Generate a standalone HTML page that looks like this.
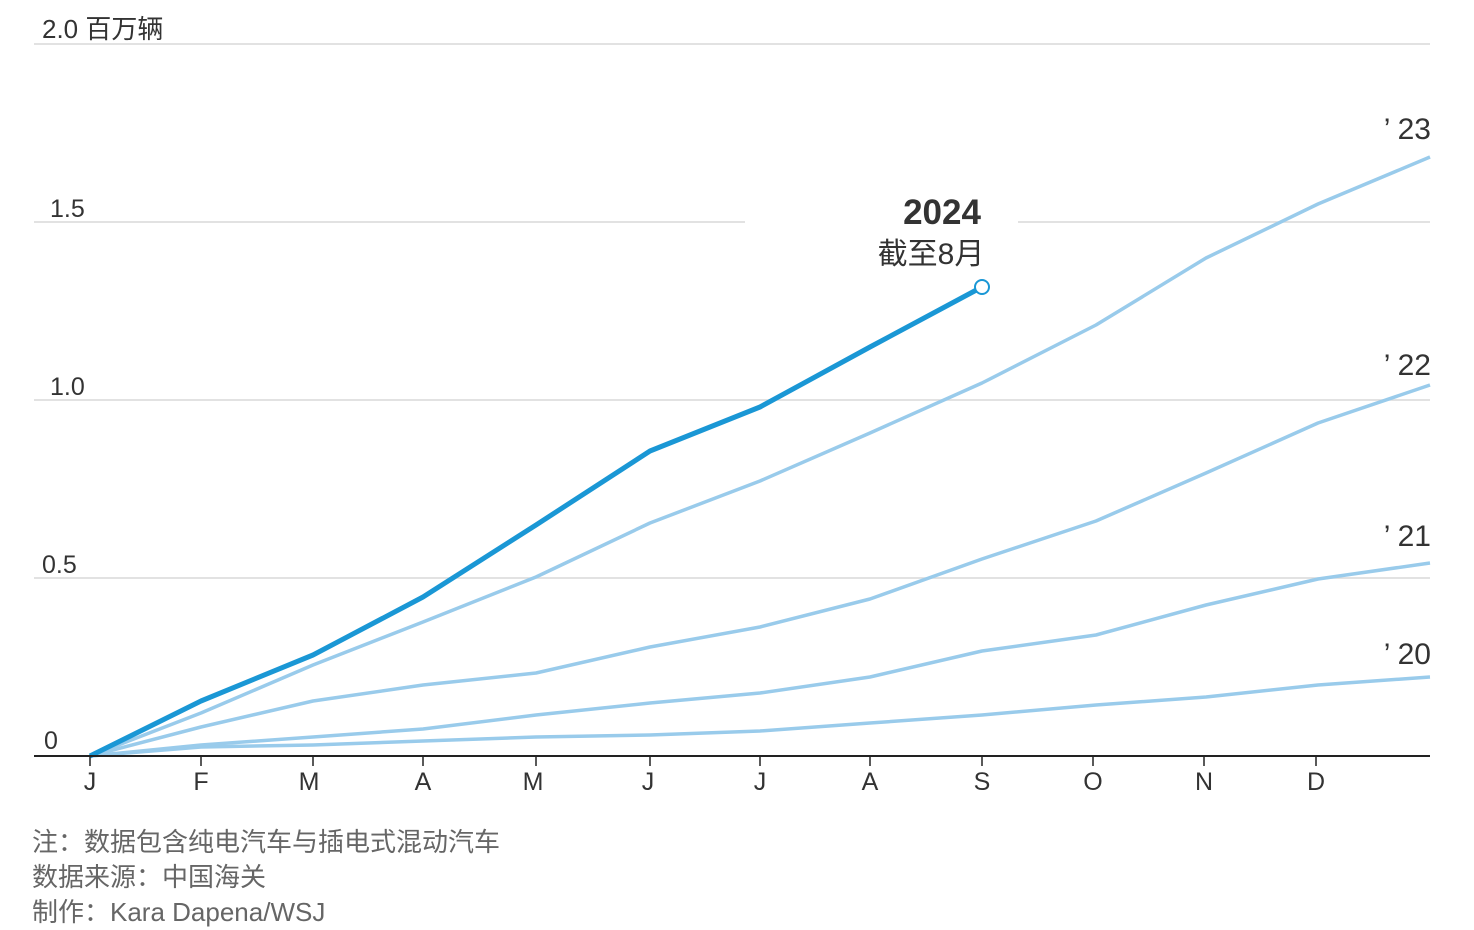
<!DOCTYPE html>
<html><head><meta charset="utf-8"><style>
html,body{margin:0;padding:0;background:#fff;}
svg{display:block;}
text{font-family:"Liberation Sans","Noto Sans CJK SC",sans-serif;}
</style></head><body>
<svg width="1474" height="930" viewBox="0 0 1474 930" xmlns="http://www.w3.org/2000/svg">
<g stroke="#d9d9d9" stroke-width="1.5">
<line x1="34" y1="44" x2="1430" y2="44"/>
<line x1="34" y1="222" x2="745" y2="222"/>
<line x1="1018" y1="222" x2="1430" y2="222"/>
<line x1="34" y1="400" x2="1430" y2="400"/>
<line x1="34" y1="578" x2="1430" y2="578"/>
</g>
<g font-size="25" fill="#333">
<text x="42" y="38" font-size="26">2.0 百万辆</text>
<text x="50" y="217">1.5</text>
<text x="50" y="395">1.0</text>
<text x="42" y="573">0.5</text>
<text x="44" y="749">0</text>
</g>
<g fill="none" stroke="#99cbeb" stroke-width="3.5" stroke-linejoin="round">
<polyline points="90,756 201,747 313,745 423,741 536,737 650,735 760,731 870,723 982,715 1096,705 1206,697 1318,685 1430,677"/>
<polyline points="90,756 201,745 313,737 423,729 536,715 650,703 760,693 870,677 982,651 1096,635 1206,605 1318,579 1430,563"/>
<polyline points="90,756 201,727 313,701 423,685 536,673 650,647 760,627 870,599 982,559 1096,521 1206,473 1318,423 1430,385"/>
<polyline points="90,756 201,713 313,665 423,622 536,577 650,523 760,481 870,433 982,383 1096,325 1206,258 1318,204 1430,157"/>
</g>
<polyline fill="none" stroke="#1a97d5" stroke-width="5" stroke-linejoin="round" points="90,756 201,701 313,655 423,597 536,525 650,451 760,407 870,347 982,287"/>
<circle cx="982" cy="287" r="7" fill="#fff" stroke="#1a97d5" stroke-width="2"/>
<line x1="34" y1="756" x2="1430" y2="756" stroke="#222" stroke-width="2"/>
<g stroke="#222" stroke-width="1.5">
<line x1="90" y1="756" x2="90" y2="766"/><line x1="201" y1="756" x2="201" y2="766"/><line x1="313" y1="756" x2="313" y2="766"/>
<line x1="423" y1="756" x2="423" y2="766"/><line x1="536" y1="756" x2="536" y2="766"/><line x1="650" y1="756" x2="650" y2="766"/>
<line x1="760" y1="756" x2="760" y2="766"/><line x1="870" y1="756" x2="870" y2="766"/><line x1="982" y1="756" x2="982" y2="766"/>
<line x1="1093" y1="756" x2="1093" y2="766"/><line x1="1204" y1="756" x2="1204" y2="766"/><line x1="1316" y1="756" x2="1316" y2="766"/>
</g>
<g font-size="25" fill="#333" text-anchor="middle">
<text x="90" y="790">J</text><text x="201" y="790">F</text><text x="309" y="790">M</text><text x="423" y="790">A</text>
<text x="533" y="790">M</text><text x="648" y="790">J</text><text x="760" y="790">J</text><text x="870" y="790">A</text>
<text x="982" y="790">S</text><text x="1093" y="790">O</text><text x="1204" y="790">N</text><text x="1316" y="790">D</text>
</g>
<g font-size="30" fill="#333" text-anchor="end">
<text x="1431" y="139">’ 23</text>
<text x="1431" y="375">’ 22</text>
<text x="1431" y="546">’ 21</text>
<text x="1431" y="664">’ 20</text>
</g>
<text x="942" y="224" font-size="35" font-weight="bold" fill="#333" text-anchor="middle">2024</text>
<text x="931" y="264" font-size="30" fill="#333" text-anchor="middle">截至8月</text>
<g font-size="26" fill="#666">
<text x="32" y="851">注：数据包含纯电汽车与插电式混动汽车</text>
<text x="32" y="886">数据来源：中国海关</text>
<text x="32" y="921">制作：Kara Dapena/WSJ</text>
</g>
</svg>
</body></html>
